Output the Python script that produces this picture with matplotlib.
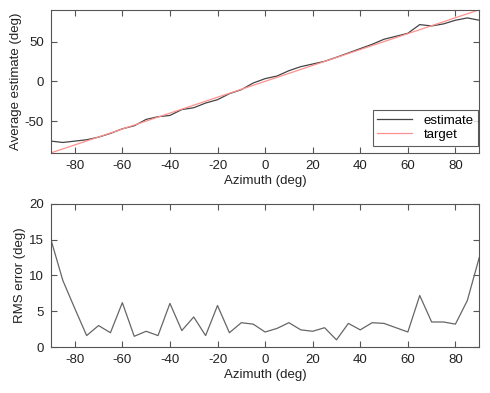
import matplotlib
matplotlib.use("Agg")
import matplotlib.pyplot as plt
import numpy as np

plt.rcParams["font.family"] = ["Liberation Sans", "DejaVu Sans"]
plt.rcParams["axes.unicode_minus"] = False

azimuth = list(range(-90, 95, 5))

# average estimate (deg)
estimate = [
    -75.2, -76.9, -75.2, -73.5, -70.2, -65.5, -59.7, -55.9, -47.9, -44.5,
    -42.9, -35.5, -33.2, -27.3, -23.1, -15.5, -10.5, -2.1, 3.4, 6.7,
    13.4, 18.5, 21.8, 25.2, 30.3, 35.7, 41.2, 46.6, 53.0, 56.7,
    60.5, 71.4, 69.7, 72.3, 76.9, 79.8, 76.9,
]
target = azimuth

# RMS error (deg)
rms_error = [
    15.0, 9.3, 5.4, 1.6, 3.0, 2.0, 6.2, 1.5, 2.2, 1.6,
    6.1, 2.3, 4.2, 1.6, 5.8, 2.0, 3.4, 3.2, 2.1, 2.6,
    3.4, 2.4, 2.2, 2.7, 1.0, 3.3, 2.4, 3.4, 3.3, 2.7,
    2.1, 7.2, 3.5, 3.5, 3.2, 6.5, 12.5,
]

FS = 9.5
FRAME = "#555555"


def style_axis(axis):
    for spine in axis.spines.values():
        spine.set_color(FRAME)
        spine.set_linewidth(0.8)
    axis.tick_params(direction="in", top=True, right=True, length=4,
                     width=0.8, color=FRAME, labelsize=FS, labelcolor="#222222",
                     pad=5)
    axis.set_xlim(-90, 90)
    axis.set_xticks([-80, -60, -40, -20, 0, 20, 40, 60, 80])
    axis.set_xlabel("Azimuth (deg)", fontsize=FS, color="#222222", labelpad=2)


fig = plt.figure(figsize=(4.9, 3.93), dpi=100)

top = fig.add_axes([0.104, 0.611, 0.874, 0.364])
top.plot(azimuth, estimate, color="#444444", linewidth=0.9, label="estimate")
top.plot(azimuth, target, color="#ff9090", linewidth=0.9, label="target")
style_axis(top)
top.set_ylim(-90, 90)
top.set_yticks([-50, 0, 50])
top.set_ylabel("Average estimate (deg)", fontsize=FS, color="#222222", labelpad=2)
legend = top.legend(loc="lower right", bbox_to_anchor=(0.998, 0.05), fontsize=FS,
                    frameon=True, fancybox=False, borderaxespad=0.0,
                    handlelength=2.6, borderpad=0.35, labelspacing=0.15,
                    handletextpad=0.9)
legend.get_frame().set_edgecolor("#333333")
legend.get_frame().set_linewidth(0.8)

bottom = fig.add_axes([0.104, 0.117, 0.874, 0.364])
bottom.plot(azimuth, rms_error, color="#666666", linewidth=0.9)
style_axis(bottom)
bottom.set_ylim(0, 20)
bottom.set_yticks([0, 5, 10, 15, 20])
bottom.set_ylabel("RMS error (deg)", fontsize=FS, color="#222222", labelpad=2)

fig.savefig("out.png", dpi=100)
